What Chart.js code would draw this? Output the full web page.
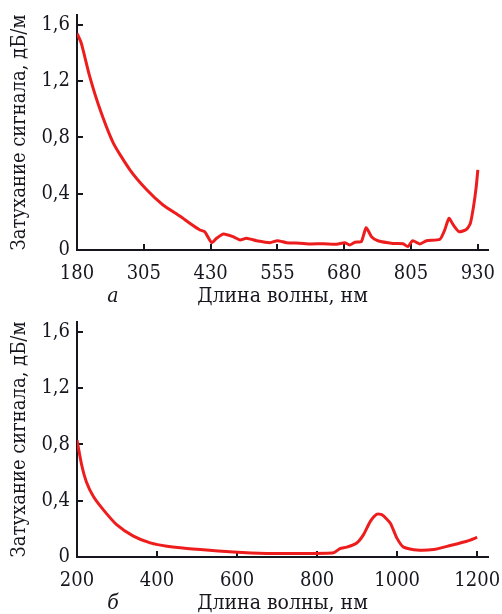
<!DOCTYPE html>
<html>
<head>
<meta charset="utf-8">
<script src="https://cdn.jsdelivr.net/npm/chart.js@4"></script>
<style>
  body { margin: 0; background: #fff; }
  canvas { display: block; }
</style>
</head>
<body>
<canvas id="grafA" width="502" height="307"></canvas>
<canvas id="grafB" width="502" height="307"></canvas>
<script>
// Spectru a) 180-930 nm
const lungimiA = [180, 188, 204, 223, 248, 279, 310, 341, 373, 391, 410, 419, 432, 441, 454, 472, 485, 497, 516, 541, 555, 572, 597, 616, 641, 666, 681, 690, 700, 712, 721, 731, 743, 771, 790, 799, 808, 821, 834, 859, 868, 876, 884, 895, 909, 916, 922, 927, 930];
const atenuareA = [1.54, 1.47, 1.23, 1.0, 0.76, 0.57, 0.43, 0.32, 0.24, 0.19, 0.142, 0.13, 0.052, 0.083, 0.114, 0.095, 0.071, 0.083, 0.066, 0.052, 0.066, 0.052, 0.048, 0.043, 0.045, 0.041, 0.052, 0.036, 0.055, 0.06, 0.159, 0.095, 0.066, 0.047, 0.045, 0.024, 0.066, 0.043, 0.066, 0.076, 0.142, 0.225, 0.178, 0.13, 0.147, 0.19, 0.31, 0.45, 0.57];
const ticksXA = [180, 305, 430, 555, 680, 805, 930];

// Spectru b) 200-1200 nm
const lungimiB = [200, 212, 224, 241, 266, 299, 341, 383, 425, 508, 591, 675, 758, 841, 857, 874, 899, 916, 933, 949, 962, 983, 999, 1016, 1049, 1091, 1133, 1174, 1200];
const atenuareB = [0.83, 0.65, 0.53, 0.43, 0.335, 0.23, 0.148, 0.10, 0.077, 0.053, 0.035, 0.025, 0.025, 0.03, 0.06, 0.07, 0.10, 0.159, 0.253, 0.304, 0.30, 0.24, 0.136, 0.07, 0.049, 0.053, 0.082, 0.112, 0.14];
const ticksXB = [200, 400, 600, 800, 1000, 1200];

const ticksY = [0, 0.4, 0.8, 1.2, 1.6];

const culoareAxa = '#16161f';
const fontText = { family: "'DejaVu Serif Condensed', 'DejaVu Serif', serif", size: 20 };

// litera de sub grafic (a / б)
const literaPlugin = {
    id: 'litera',
    afterDraw(chart, args, opts) {
        const ctx = chart.ctx;
        ctx.save();
        ctx.font = "italic 21px 'DejaVu Serif Condensed', 'DejaVu Serif', serif";
        ctx.fillStyle = culoareAxa;
        ctx.textAlign = 'center';
        ctx.textBaseline = 'middle';
        ctx.fillText(opts.text, 113, 297);
        ctx.restore();
    }
};

function deseneazaGrafic(id, xs, ys, ticksX, xMin, xMax, litera) {
    const ctx = document.getElementById(id).getContext('2d');
    return new Chart(ctx, {
        type: 'line',
        data: {
            datasets: [{
                data: xs.map((x, i) => ({ x: x, y: ys[i] })),
                borderColor: '#ee1d1d',
                borderWidth: 3,
                pointRadius: 0,
                tension: 0.2,
                fill: false
            }]
        },
        options: {
            responsive: false,
            animation: false,
            layout: { padding: { top: 15, right: 14, left: 0, bottom: 0 } },
            plugins: {
                legend: { display: false },
                tooltip: { enabled: false },
                litera: { text: litera }
            },
            scales: {
                x: {
                    type: 'linear',
                    min: xMin,
                    max: xMax,
                    afterBuildTicks: (s) => { s.ticks = ticksX.map(v => ({ value: v })); },
                    afterFit: (s) => { s.height = 57; s.paddingLeft = 0; s.paddingRight = 0; },
                    border: { display: true, color: culoareAxa, width: 2 },
                    grid: { drawOnChartArea: false, tickLength: -6, color: culoareAxa, lineWidth: 2 },
                    ticks: { color: culoareAxa, font: fontText, padding: 18, maxRotation: 0, callback: (v) => String(v) },
                    title: {
                        display: true,
                        text: 'Длина волны, нм',
                        color: culoareAxa,
                        font: { family: fontText.family, size: 21, lineHeight: 1 },
                        padding: { top: 0, bottom: 0 }
                    }
                },
                y: {
                    min: 0,
                    max: 1.67,
                    afterBuildTicks: (s) => { s.ticks = ticksY.map(v => ({ value: v })); },
                    afterFit: (s) => { s.width = 77; s.paddingTop = 0; s.paddingBottom = 0; },
                    border: { display: true, color: culoareAxa, width: 2 },
                    grid: { drawOnChartArea: false, tickLength: -6, color: culoareAxa, lineWidth: 2 },
                    ticks: {
                        color: culoareAxa,
                        font: fontText,
                        padding: 13,
                        callback: (v) => v === 0 ? '0' : v.toFixed(1).replace('.', ',')
                    },
                    title: {
                        display: true,
                        text: 'Затухание сигнала, дБ/м',
                        color: culoareAxa,
                        font: { family: fontText.family, size: 20, lineHeight: 1.2 },
                        padding: { top: 8, bottom: 0 }
                    }
                }
            }
        },
        plugins: [literaPlugin]
    });
}

deseneazaGrafic('grafA', lungimiA, atenuareA, ticksXA, 180, 949, 'а');
deseneazaGrafic('grafB', lungimiB, atenuareB, ticksXB, 200, 1227, 'б');
</script>
</body>
</html>
